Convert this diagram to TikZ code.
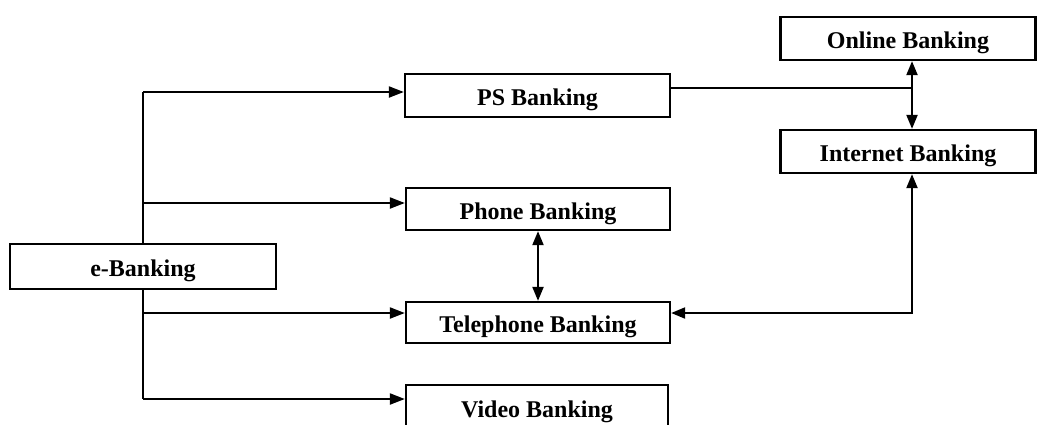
\documentclass[tikz,border=0pt]{standalone}
\usepackage{fontspec}
\setmainfont{Liberation Serif}
\usetikzlibrary{arrows.meta,calc}
\begin{document}
\begin{tikzpicture}[x=1pt,y=-1pt,
  box/.style={draw,line width=2.3pt,rectangle,inner sep=0pt,
    text height=20pt,text depth=0pt,
    font=\fontsize{24}{28}\selectfont\bfseries},
  conn/.style={line width=2.1pt},
  arr/.style={conn,-{Triangle[length=15pt,width=11pt]}},
  darr/.style={conn,{Triangle[length=14pt,width=11pt]}-{Triangle[length=14pt,width=11pt]}}]
\useasboundingbox (0,0) rectangle (1038,424);
\clip (0,0) rectangle (1038,424);
% boxes
\node[box,minimum width=266pt,minimum height=45pt] (eb) at (143,266.5) {e-Banking};
\node[box,minimum width=265pt,minimum height=43pt] (ps) at (537.5,95.5) {PS Banking};
\node[box,minimum width=264pt,minimum height=42pt] (ph) at (538,209) {Phone Banking};
\node[box,minimum width=264pt,minimum height=41pt] (tel) at (538,322.5) {Telephone Banking};
\node[box,minimum width=262pt,minimum height=44pt] (vid) at (537,407) {Video Banking};
\node[box,minimum width=255pt,minimum height=43pt] (on) at (908,38.5) {Online Banking};
\node[box,minimum width=255pt,minimum height=43pt] (inet) at (908,151.5) {Internet Banking};
% helper coordinates
\coordinate (jt) at (143,92);
\coordinate (jp) at (143,203);
\coordinate (jtel) at (143,313);
\coordinate (jv) at (143,399);
\coordinate (xi) at (912,0);
\coordinate (yps) at (0,88);
\coordinate (ytel) at (0,313);
% trunk
\draw[conn] (eb.north) -- (jt);
\draw[conn] (eb.south) -- (jv);
\draw[arr] (jt) -- (jt -| ps.west);
\draw[arr] (jp) -- (jp -| ph.west);
\draw[arr] (jtel) -- (jtel -| tel.west);
\draw[arr] (jv) -- (jv -| vid.west);
% PS to online/internet link
\draw[line width=1.6pt] (yps -| ps.east) -- (yps -| xi);
\draw[darr] (on.south -| xi) -- (inet.north -| xi);
% phone <-> telephone
\draw[darr] (ph.south) -- (tel.north);
% internet <-> telephone
\draw[darr] (inet.south -| xi) |- (ytel -| tel.east);
\end{tikzpicture}
\end{document}
